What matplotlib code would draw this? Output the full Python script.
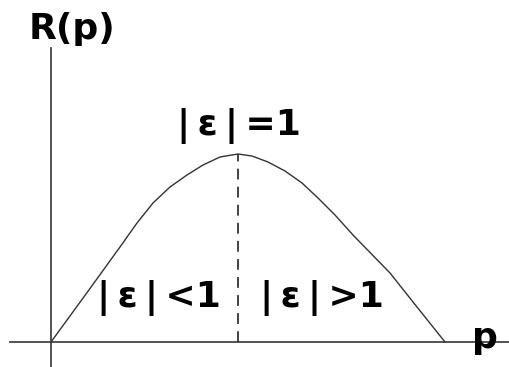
import matplotlib
matplotlib.use("Agg")
import matplotlib.pyplot as plt

# curve R(p), rising part up to the peak and falling part after it
p_up = [0, 35, 69, 86, 102, 119, 136, 152, 169, 187]
r_up = [0, 48, 95, 119, 139, 155, 167, 177, 185, 188]
p_down = [201, 217, 234, 251, 267, 284, 302, 339, 366, 394]
r_down = [186, 180, 171, 159, 144, 127, 107, 69, 35, 0]

p_peak = 187
r_peak = 188

ts = "\u2009"
labels = [f"|{ts}ε{ts}|{ts}<1", f"|{ts}ε{ts}|{ts}=1", f"|{ts}ε{ts}|{ts}>1"]

fig = plt.figure(figsize=(5.10, 3.67), dpi=100)
ax = fig.add_axes([0, 0, 1, 1])
ax.set_xlim(-51, 459)
ax.set_ylim(-25, 342)
ax.axis("off")

# axes drawn by hand
ax.plot([-41, 459], [0, 0], color="#444444", lw=1.3)
ax.plot([0, 0], [-25, 294], color="#444444", lw=1.3)

ax.plot(p_up + p_down, r_up + r_down, color="#333333", lw=1.0)
ax.plot([p_peak, p_peak], [0, r_peak], color="#333333", lw=1.3,
        linestyle=(0, (6, 4)))

font = dict(fontsize=26, fontweight="bold", color="black", family="DejaVu Sans")
ax.text(21, 303, "R(p)", ha="center", va="baseline", **font)
ax.text(434, -6, "p", ha="center", va="baseline", zorder=5, **font)
ax.text(108, 35, labels[0], ha="center", va="baseline", **font)
ax.text(p_peak + 1, 207, labels[1], ha="center", va="baseline", **font)
ax.text(271, 35, labels[2], ha="center", va="baseline", **font)

fig.savefig("out.png", dpi=100, facecolor="white")
